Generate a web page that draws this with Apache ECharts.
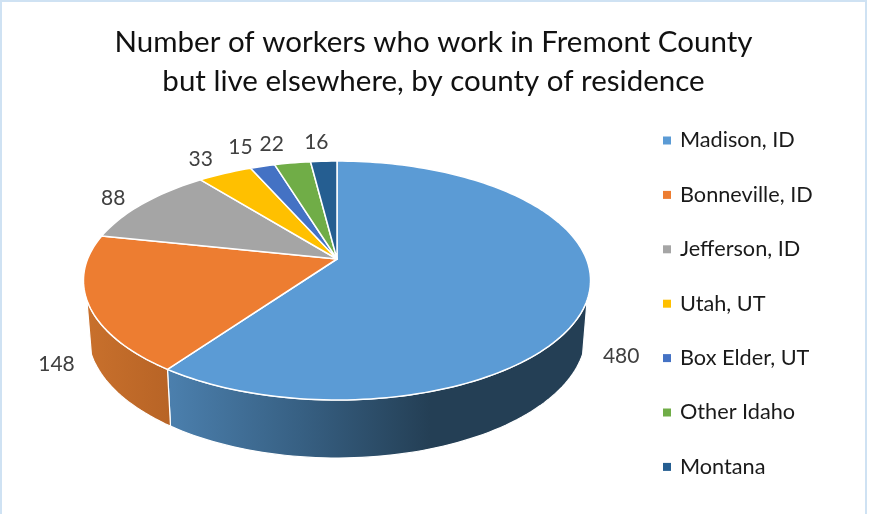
<!DOCTYPE html>
<html>
<head>
<meta charset="utf-8">
<style>html,body{margin:0;background:#fff}#chart{width:872px;height:514px}</style>
<script src="https://cdn.jsdelivr.net/npm/echarts@6/dist/echarts.min.js"></script>
</head>
<body>
<div id="chart"></div>
<script>
var titleText = 'Number of workers who work in Fremont County\nbut live elsewhere, by county of residence';
var counties = ['Madison, ID', 'Bonneville, ID', 'Jefferson, ID', 'Utah, UT', 'Box Elder, UT', 'Other Idaho', 'Montana'];
var workers = [480, 148, 88, 33, 15, 22, 16];
var topColors = ['#5b9bd5', '#ed7d31', '#a5a5a5', '#ffc000', '#4472c4', '#70ad47', '#255e91'];

// label nudges from the projected slice middle, px
var labelNudge = [[-2, 2], [3, 2], [-7, 1], [-12, -5], [-14, -9], [-16, -8], [-6, -8]];

// perspective of the pie plane, fitted to the picture
var cx = 337, apexY = 259, k = 0.18, a = 249.4, b = 115.6;
var wallDrop = 52.4, wallScaleX = 0.982, wallScaleY = 1.04, wallFrom = 109.5, wallTo = 250.5;

var total = workers.reduce(function (s, v) { return s + v; }, 0);

function project(deg, r, low) {
    var rad = deg * Math.PI / 180;
    var u = Math.sin(rad) * r, v = -Math.cos(rad) * r;
    var w = 1 - k * v;
    var x = a * u / w, y = b * v / w;
    if (low) return [cx + x * wallScaleX, apexY + y * wallScaleY + wallDrop];
    return [cx + x, apexY + y];
}

function arc(from, to, low) {
    var pts = [];
    var n = Math.max(2, Math.ceil((to - from) / 1.5));
    for (var i = 0; i <= n; i++) pts.push(project(from + (to - from) * i / n, 1, low));
    return pts;
}

function wallFill(i) {
    if (i === 0) {
        return new echarts.graphic.LinearGradient(170, 0, 430, 0, [
            { offset: 0, color: '#4b7fad' },
            { offset: 0.5, color: '#376083' },
            { offset: 1, color: '#243f55' }
        ], true);
    }
    return new echarts.graphic.LinearGradient(88, 0, 168, 0, [
        { offset: 0, color: '#c8702c' },
        { offset: 1, color: '#b86426' }
    ], true);
}

function renderSlice(params, api) {
    var i = params.seriesIndex;
    var start = api.value(1) / total * 360;
    var end = start + api.value(0) / total * 360;
    var children = [];

    var wa = Math.max(start, wallFrom), wb = Math.min(end, wallTo);
    if (wb > wa) {
        children.push({
            type: 'polygon',
            shape: { points: arc(wa, wb, false).concat(arc(wa, wb, true).reverse()) },
            style: { fill: wallFill(i), stroke: '#fff', lineWidth: 1.2 }
        });
    }

    children.push({
        type: 'polygon',
        shape: { points: [[cx, apexY]].concat(arc(start, end, false)) },
        style: { fill: topColors[i], stroke: '#fff', lineWidth: 1.5, lineJoin: 'round' }
    });

    var mid = (start + end) / 2;
    var p = project(mid, 1.13, false);
    var onWall = mid > 90 && mid < 270 ? wallDrop : 0;
    children.push({
        type: 'text',
        style: {
            x: p[0] + labelNudge[i][0],
            y: p[1] + onWall + labelNudge[i][1],
            text: String(api.value(0)),
            fill: '#404040',
            font: '21px Lato',
            align: 'center',
            verticalAlign: 'middle'
        }
    });
    return { type: 'group', children: children };
}

var cum = 0;
var sliceSeries = counties.map(function (name, i) {
    var s = {
        type: 'custom',
        name: name,
        coordinateSystem: 'none',
        silent: true,
        animation: false,
        itemStyle: { color: topColors[i] },
        renderItem: renderSlice,
        data: [[workers[i], cum]]
    };
    cum += workers[i];
    return s;
});

var myChart = echarts.init(document.getElementById('chart'));
myChart.setOption({
    backgroundColor: '#fff',
    animation: false,
    title: {
        text: titleText,
        left: 433.5,
        top: 23,
        padding: 0,
        textAlign: 'center',
        textStyle: { fontFamily: 'Lato', fontSize: 29.5, fontWeight: 'normal', color: '#111', lineHeight: 39 }
    },
    legend: {
        orient: 'vertical',
        left: 663,
        top: 126.5,
        padding: 0,
        icon: 'rect',
        itemWidth: 8,
        itemHeight: 8,
        itemGap: 26.4,
        selectedMode: false,
        data: counties,
        textStyle: { fontFamily: 'Lato', fontSize: 21.7, color: '#1a1a1a', padding: [0, 0, 0, 4], lineHeight: 28 }
    },
    graphic: [{
        type: 'polyline',
        silent: true,
        shape: { points: [[1, 514], [1, 1], [866, 1], [866, 514]] },
        style: { fill: null, stroke: '#cfe2f3', lineWidth: 2 }
    }],
    series: sliceSeries
});
</script>
</body>
</html>
